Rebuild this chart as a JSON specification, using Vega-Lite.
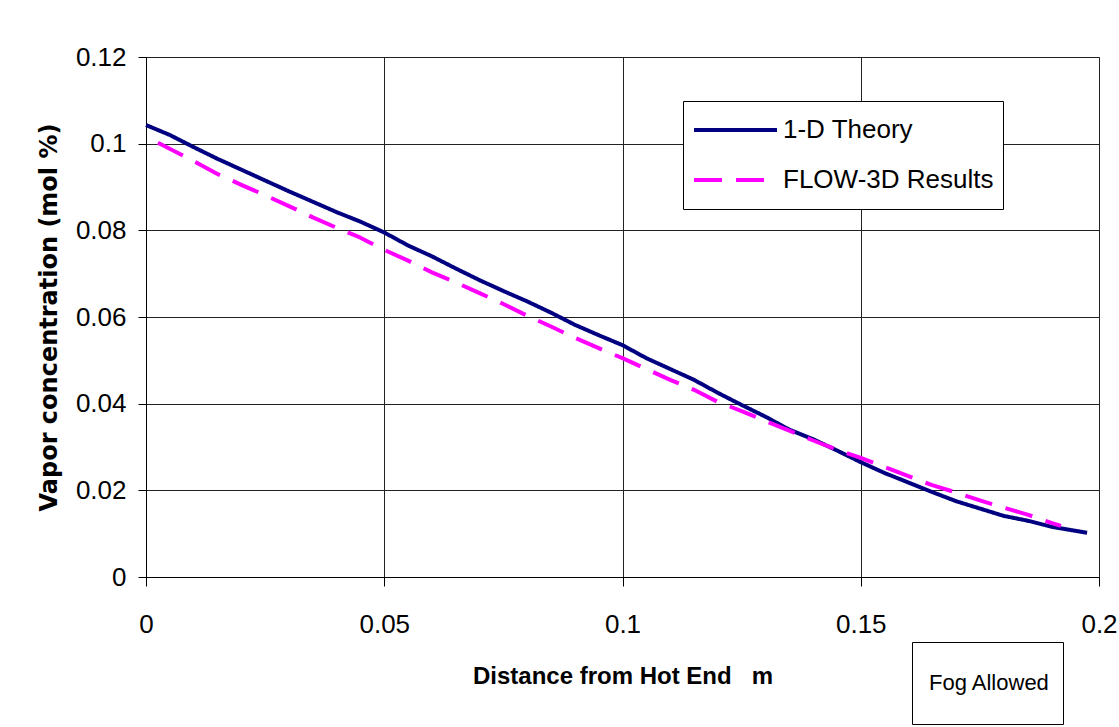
{
  "$schema": "https://vega.github.io/schema/vega-lite/v6.json",
  "width": 953,
  "height": 520,
  "autosize": {"type": "none"},
  "padding": {"left": 146, "top": 57, "right": 20, "bottom": 150},
  "background": "white",
  "config": {
    "view": {"stroke": "#808080", "strokeWidth": 1},
    "axis": {
      "labelFont": "Liberation Sans",
      "labelFontSize": 26,
      "labelColor": "#000",
      "titleColor": "#000",
      "domainColor": "#000",
      "tickColor": "#000",
      "gridColor": "#222",
      "gridWidth": 1,
      "gridOpacity": 1
    }
  },
  "datasets": {
    "lines": [
      {"x": 0.0, "y": 0.1043, "series": "1-D Theory"},
      {"x": 0.005, "y": 0.1020, "series": "1-D Theory"},
      {"x": 0.01, "y": 0.0992, "series": "1-D Theory"},
      {"x": 0.015, "y": 0.0965, "series": "1-D Theory"},
      {"x": 0.02, "y": 0.0940, "series": "1-D Theory"},
      {"x": 0.025, "y": 0.0915, "series": "1-D Theory"},
      {"x": 0.03, "y": 0.0890, "series": "1-D Theory"},
      {"x": 0.035, "y": 0.0866, "series": "1-D Theory"},
      {"x": 0.04, "y": 0.0842, "series": "1-D Theory"},
      {"x": 0.045, "y": 0.0820, "series": "1-D Theory"},
      {"x": 0.05, "y": 0.0795, "series": "1-D Theory"},
      {"x": 0.055, "y": 0.0765, "series": "1-D Theory"},
      {"x": 0.06, "y": 0.0740, "series": "1-D Theory"},
      {"x": 0.065, "y": 0.0712, "series": "1-D Theory"},
      {"x": 0.07, "y": 0.0685, "series": "1-D Theory"},
      {"x": 0.075, "y": 0.0660, "series": "1-D Theory"},
      {"x": 0.08, "y": 0.0636, "series": "1-D Theory"},
      {"x": 0.085, "y": 0.0610, "series": "1-D Theory"},
      {"x": 0.09, "y": 0.0582, "series": "1-D Theory"},
      {"x": 0.095, "y": 0.0558, "series": "1-D Theory"},
      {"x": 0.1, "y": 0.0535, "series": "1-D Theory"},
      {"x": 0.105, "y": 0.0505, "series": "1-D Theory"},
      {"x": 0.11, "y": 0.0480, "series": "1-D Theory"},
      {"x": 0.115, "y": 0.0455, "series": "1-D Theory"},
      {"x": 0.12, "y": 0.0425, "series": "1-D Theory"},
      {"x": 0.125, "y": 0.0397, "series": "1-D Theory"},
      {"x": 0.13, "y": 0.0370, "series": "1-D Theory"},
      {"x": 0.135, "y": 0.0340, "series": "1-D Theory"},
      {"x": 0.14, "y": 0.0318, "series": "1-D Theory"},
      {"x": 0.145, "y": 0.0292, "series": "1-D Theory"},
      {"x": 0.15, "y": 0.0265, "series": "1-D Theory"},
      {"x": 0.155, "y": 0.0240, "series": "1-D Theory"},
      {"x": 0.16, "y": 0.0218, "series": "1-D Theory"},
      {"x": 0.165, "y": 0.0196, "series": "1-D Theory"},
      {"x": 0.17, "y": 0.0175, "series": "1-D Theory"},
      {"x": 0.175, "y": 0.0158, "series": "1-D Theory"},
      {"x": 0.18, "y": 0.0141, "series": "1-D Theory"},
      {"x": 0.185, "y": 0.0130, "series": "1-D Theory"},
      {"x": 0.19, "y": 0.0116, "series": "1-D Theory"},
      {"x": 0.1975, "y": 0.0102, "series": "1-D Theory"},
      {"x": 0.0025, "y": 0.1002, "series": "FLOW-3D Results"},
      {"x": 0.01, "y": 0.0960, "series": "FLOW-3D Results"},
      {"x": 0.015, "y": 0.0930, "series": "FLOW-3D Results"},
      {"x": 0.02, "y": 0.0905, "series": "FLOW-3D Results"},
      {"x": 0.025, "y": 0.0881, "series": "FLOW-3D Results"},
      {"x": 0.03, "y": 0.0856, "series": "FLOW-3D Results"},
      {"x": 0.035, "y": 0.0830, "series": "FLOW-3D Results"},
      {"x": 0.04, "y": 0.0806, "series": "FLOW-3D Results"},
      {"x": 0.045, "y": 0.0783, "series": "FLOW-3D Results"},
      {"x": 0.05, "y": 0.0755, "series": "FLOW-3D Results"},
      {"x": 0.055, "y": 0.0730, "series": "FLOW-3D Results"},
      {"x": 0.06, "y": 0.0703, "series": "FLOW-3D Results"},
      {"x": 0.065, "y": 0.0680, "series": "FLOW-3D Results"},
      {"x": 0.07, "y": 0.0655, "series": "FLOW-3D Results"},
      {"x": 0.075, "y": 0.0630, "series": "FLOW-3D Results"},
      {"x": 0.08, "y": 0.0603, "series": "FLOW-3D Results"},
      {"x": 0.085, "y": 0.0578, "series": "FLOW-3D Results"},
      {"x": 0.09, "y": 0.0552, "series": "FLOW-3D Results"},
      {"x": 0.095, "y": 0.0528, "series": "FLOW-3D Results"},
      {"x": 0.1, "y": 0.0505, "series": "FLOW-3D Results"},
      {"x": 0.105, "y": 0.0480, "series": "FLOW-3D Results"},
      {"x": 0.11, "y": 0.0455, "series": "FLOW-3D Results"},
      {"x": 0.115, "y": 0.0432, "series": "FLOW-3D Results"},
      {"x": 0.12, "y": 0.0404, "series": "FLOW-3D Results"},
      {"x": 0.125, "y": 0.0383, "series": "FLOW-3D Results"},
      {"x": 0.13, "y": 0.0360, "series": "FLOW-3D Results"},
      {"x": 0.135, "y": 0.0338, "series": "FLOW-3D Results"},
      {"x": 0.14, "y": 0.0315, "series": "FLOW-3D Results"},
      {"x": 0.145, "y": 0.0294, "series": "FLOW-3D Results"},
      {"x": 0.15, "y": 0.0275, "series": "FLOW-3D Results"},
      {"x": 0.155, "y": 0.0254, "series": "FLOW-3D Results"},
      {"x": 0.16, "y": 0.0233, "series": "FLOW-3D Results"},
      {"x": 0.165, "y": 0.0212, "series": "FLOW-3D Results"},
      {"x": 0.17, "y": 0.0195, "series": "FLOW-3D Results"},
      {"x": 0.175, "y": 0.0177, "series": "FLOW-3D Results"},
      {"x": 0.18, "y": 0.0160, "series": "FLOW-3D Results"},
      {"x": 0.185, "y": 0.0144, "series": "FLOW-3D Results"},
      {"x": 0.19, "y": 0.0125, "series": "FLOW-3D Results"},
      {"x": 0.192, "y": 0.0118, "series": "FLOW-3D Results"}
    ]
  },
  "layer": [
    {
      "data": {"name": "lines"},
      "mark": {"type": "line", "strokeWidth": 4, "strokeCap": "butt", "strokeJoin": "round"},
      "encoding": {
        "x": {
          "field": "x", "type": "quantitative",
          "scale": {"domain": [0, 0.2], "nice": false, "zero": false},
          "axis": {
            "values": [0, 0.05, 0.1, 0.15, 0.2],
            "format": "~f",
            "tickSize": 9,
            "labelPadding": 25,
            "labelFlush": false,
            "title": "Distance from Hot End\u00a0\u00a0 m",
            "titleFont": "Liberation Sans",
            "titleFontSize": 24,
            "titleFontWeight": "bold",
            "titlePadding": 27
          }
        },
        "y": {
          "field": "y", "type": "quantitative",
          "scale": {"domain": [0, 0.12], "nice": false},
          "axis": {
            "values": [0, 0.02, 0.04, 0.06, 0.08, 0.1, 0.12],
            "format": "~f",
            "tickSize": 8,
            "labelPadding": 12,
            "labelFlush": false,
            "title": "Vapor concentration (mol %)",
            "titleFont": "DejaVu Sans",
            "titleFontSize": 24,
            "titleFontWeight": "bold",
            "titlePadding": 14
          }
        },
        "color": {
          "field": "series", "type": "nominal",
          "scale": {"domain": ["1-D Theory", "FLOW-3D Results"], "range": ["#000080", "#FF00FF"]},
          "legend": {
            "orient": "none",
            "legendX": 537,
            "legendY": 44,
            "title": null,
            "strokeColor": "#000",
            "fillColor": "#fff",
            "padding": 9,
            "symbolType": "stroke",
            "symbolSize": 6889,
            "symbolStrokeWidth": 4,
            "clipHeight": 40,
            "labelFont": "Liberation Sans",
            "labelFontSize": 26,
            "labelColor": "#000",
            "labelOffset": 4,
            "rowPadding": 10,
            "labelLimit": 400
          }
        },
        "strokeDash": {
          "field": "series", "type": "nominal",
          "scale": {"domain": ["1-D Theory", "FLOW-3D Results"], "range": [[1, 0], [28, 14]]},
          "legend": {
            "orient": "none",
            "legendX": 537,
            "legendY": 44,
            "title": null,
            "strokeColor": "#000",
            "fillColor": "#fff",
            "padding": 9,
            "symbolType": "stroke",
            "symbolSize": 6889,
            "symbolStrokeWidth": 4,
            "clipHeight": 40,
            "labelFont": "Liberation Sans",
            "labelFontSize": 26,
            "labelColor": "#000",
            "labelOffset": 4,
            "rowPadding": 10,
            "labelLimit": 400
          }
        }
      }
    },
    {
      "data": {"values": [{}]},
      "mark": {"type": "point", "opacity": 0},
      "encoding": {
        "shape": {
          "datum": "Fog Allowed",
          "legend": {
            "orient": "none",
            "legendX": 766,
            "legendY": 585,
            "title": null,
            "strokeColor": "#000",
            "fillColor": "#fff",
            "padding": 12,
            "clipHeight": 58,
            "symbolSize": 0,
            "symbolOpacity": 0,
            "symbolStrokeWidth": 0,
            "labelFont": "Liberation Sans",
            "labelFontSize": 22,
            "labelColor": "#000",
            "labelOffset": -17
          }
        }
      }
    }
  ]
}
